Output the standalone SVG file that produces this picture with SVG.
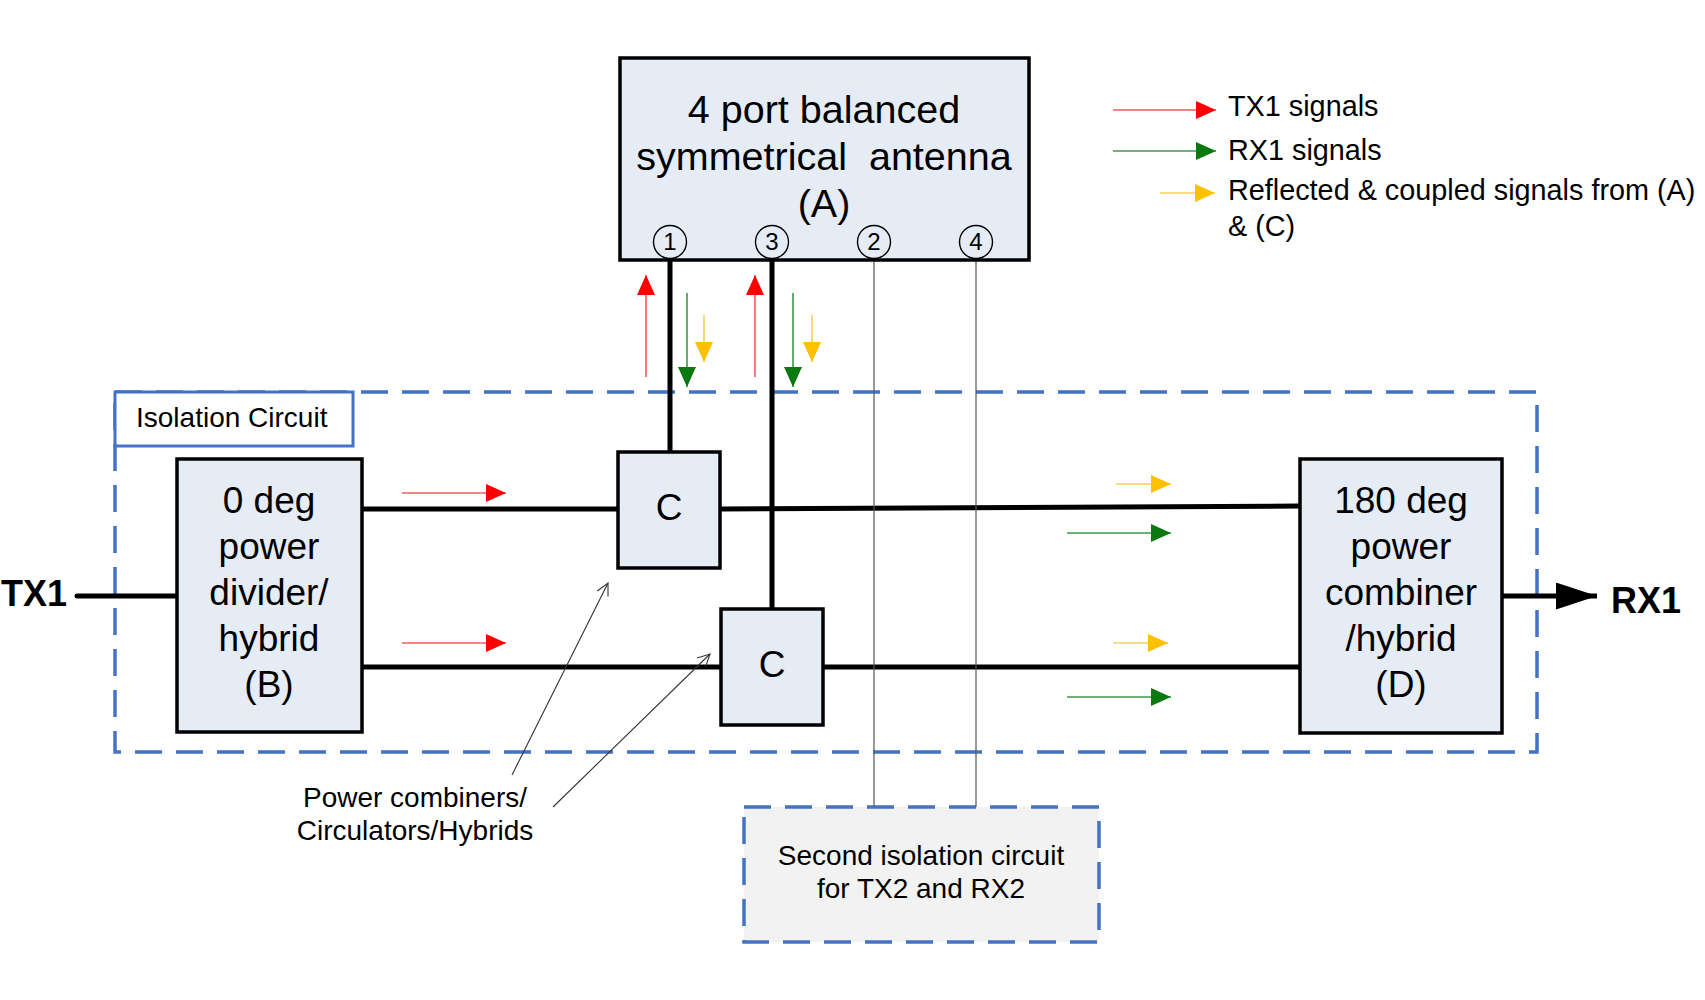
<svg xmlns="http://www.w3.org/2000/svg" width="1705" height="1000" viewBox="0 0 1705 1000">
<style>
.box{fill:#e5ecf6;stroke:#000;stroke-width:3.5}
.port{fill:#e5ecf6;stroke:#000;stroke-width:1.4}
.big{font-family:"Liberation Sans",Arial,sans-serif;font-size:37px;text-anchor:middle;fill:#000}
.ant{font-family:"Liberation Sans",Arial,sans-serif;font-size:39.5px;text-anchor:middle;fill:#000;white-space:pre}
.sm{font-family:"Liberation Sans",Arial,sans-serif;font-size:28px;fill:#000}
.leg{font-family:"Liberation Sans",Arial,sans-serif;font-size:28.8px;fill:#000}
.num{font-family:"Liberation Sans",Arial,sans-serif;font-size:24px;text-anchor:middle;fill:#000}
.bold{font-family:"Liberation Sans",Arial,sans-serif;font-size:36px;font-weight:bold;fill:#000}
.wire{stroke:#000;stroke-width:5;fill:none}
.thin{stroke:#555;stroke-width:1.2;fill:none}
.dash{fill:none;stroke:#4472c4;stroke-width:3.5;stroke-dasharray:27 14}
.red{stroke:#f05a5a;stroke-width:1.6;marker-end:url(#hr)}
.green{stroke:#3d9a4a;stroke-width:1.6;marker-end:url(#hg)}
.yellow{stroke:#f8cf5a;stroke-width:1.6;marker-end:url(#hy)}
.ptr{stroke:#333;stroke-width:1.1;fill:none;marker-end:url(#open)}
</style>
<defs>
<marker id="hr" markerUnits="userSpaceOnUse" markerWidth="21" markerHeight="19" refX="20" refY="9" orient="auto"><path d="M0,0 L20,9 L0,18 z" fill="#ff0000"/></marker>
<marker id="hg" markerUnits="userSpaceOnUse" markerWidth="21" markerHeight="19" refX="20" refY="9" orient="auto"><path d="M0,0 L20,9 L0,18 z" fill="#0a7a10"/></marker>
<marker id="hy" markerUnits="userSpaceOnUse" markerWidth="21" markerHeight="19" refX="20" refY="9" orient="auto"><path d="M0,0 L20,9 L0,18 z" fill="#ffc000"/></marker>
<marker id="open" markerUnits="userSpaceOnUse" markerWidth="16" markerHeight="16" refX="14" refY="7" orient="auto"><path d="M2,1 L14,7 L2,13" fill="none" stroke="#333" stroke-width="1.1"/></marker>
<marker id="big" markerUnits="userSpaceOnUse" markerWidth="42" markerHeight="28" refX="41" refY="13.5" orient="auto"><path d="M0,0 L41,13.5 L0,27 z" fill="#000"/></marker>
</defs>
<rect width="1705" height="1000" fill="#fff"/>

<g id="isolation-circuit">
<rect class="dash" x="115" y="392" width="1422" height="360"/>
<rect x="115" y="392" width="238" height="54" fill="#fff" stroke="#4472c4" stroke-width="3"/>
<text class="sm" x="136" y="427">Isolation Circuit</text>
</g>

<g id="second-isolation">
<rect x="744" y="807" width="355" height="135" fill="#f2f2f2" stroke="#4472c4" stroke-width="3.5" stroke-dasharray="27 14"/>
<text class="sm" x="921" y="865" text-anchor="middle">Second isolation circuit</text>
<text class="sm" x="921" y="898" text-anchor="middle">for TX2 and RX2</text>
</g>

<g id="connectors">
<line class="wire" x1="77" y1="596" x2="177" y2="596" stroke-linecap="round"/>
<line class="wire" x1="362" y1="509" x2="618" y2="509"/>
<line class="wire" x1="362" y1="667" x2="721" y2="667"/>
<line class="wire" x1="720" y1="509" x2="1300" y2="506"/>
<line class="wire" x1="823" y1="667" x2="1300" y2="667"/>
<line class="wire" x1="670" y1="260" x2="670" y2="452"/>
<line class="wire" x1="772" y1="260" x2="772" y2="609"/>
<line class="wire" x1="1502" y1="596" x2="1597" y2="596" marker-end="url(#big)"/>
<line class="thin" x1="874" y1="259" x2="874" y2="807"/>
<line class="thin" x1="976" y1="259" x2="976" y2="807"/>
<line class="ptr" x1="512" y1="775" x2="608" y2="583"/>
<line class="ptr" x1="553" y1="807" x2="710" y2="654"/>
<line class="red" x1="646" y1="377" x2="646" y2="275"/>
<line class="green" x1="687" y1="293" x2="687" y2="387"/>
<line class="yellow" x1="704" y1="315" x2="704" y2="362"/>
<line class="red" x1="755" y1="377" x2="755" y2="275"/>
<line class="green" x1="793" y1="293" x2="793" y2="387"/>
<line class="yellow" x1="812" y1="315" x2="812" y2="362"/>
<line class="red" x1="402" y1="493" x2="506" y2="493"/>
<line class="red" x1="402" y1="643" x2="506" y2="643"/>
<line class="yellow" x1="1116" y1="484" x2="1171" y2="484"/>
<line class="green" x1="1067" y1="533" x2="1171" y2="533"/>
<line class="yellow" x1="1113" y1="643" x2="1168" y2="643"/>
<line class="green" x1="1067" y1="697" x2="1171" y2="697"/>
</g>

<g id="antenna">
<rect class="box" x="620" y="58" width="409" height="202"/>
<text class="ant" x="824" y="123">4 port balanced</text>
<text class="ant" x="824" y="170" xml:space="preserve">symmetrical  antenna</text>
<text class="ant" x="824" y="217">(A)</text>
<circle class="port" cx="670" cy="242" r="16.5"/>
<text class="num" x="670" y="250">1</text>
<circle class="port" cx="772" cy="242" r="16.5"/>
<text class="num" x="772" y="250">3</text>
<circle class="port" cx="874" cy="242" r="16.5"/>
<text class="num" x="874" y="250">2</text>
<circle class="port" cx="976" cy="242" r="16.5"/>
<text class="num" x="976" y="250">4</text>
</g>

<g id="divider-B">
<rect class="box" x="177" y="459" width="185" height="273"/>
<text class="big" x="269" y="513">0 deg</text>
<text class="big" x="269" y="559">power</text>
<text class="big" x="269" y="605">divider/</text>
<text class="big" x="269" y="651">hybrid</text>
<text class="big" x="269" y="697">(B)</text>
</g>

<g id="combiner-D">
<rect class="box" x="1300" y="459" width="202" height="274"/>
<text class="big" x="1401" y="513">180 deg</text>
<text class="big" x="1401" y="559">power</text>
<text class="big" x="1401" y="605">combiner</text>
<text class="big" x="1401" y="651">/hybrid</text>
<text class="big" x="1401" y="697">(D)</text>
</g>

<g id="C1">
<rect class="box" x="618" y="452" width="102" height="116"/>
<text class="big" x="669" y="520">C</text>
</g>

<g id="C2">
<rect class="box" x="721" y="609" width="102" height="116"/>
<text class="big" x="772" y="677">C</text>
</g>

<g id="TX1">
<text class="bold" x="1" y="606">TX1</text>
</g>
<g id="RX1">
<text class="bold" x="1611" y="613">RX1</text>
</g>

<g id="pointer-label">
<text class="sm" x="415" y="807" text-anchor="middle">Power combiners/</text>
<text class="sm" x="415" y="840" text-anchor="middle">Circulators/Hybrids</text>
</g>

<g id="legend">
<line class="red" x1="1113" y1="110" x2="1216" y2="110"/>
<line class="green" x1="1113" y1="151" x2="1216" y2="151"/>
<line class="yellow" x1="1160" y1="193" x2="1215" y2="193"/>
<text class="leg" x="1228" y="116">TX1 signals</text>
<text class="leg" x="1228" y="160">RX1 signals</text>
<text class="leg" x="1228" y="200">Reflected &amp; coupled signals from (A)</text>
<text class="leg" x="1228" y="236">&amp; (C)</text>
</g>
</svg>
